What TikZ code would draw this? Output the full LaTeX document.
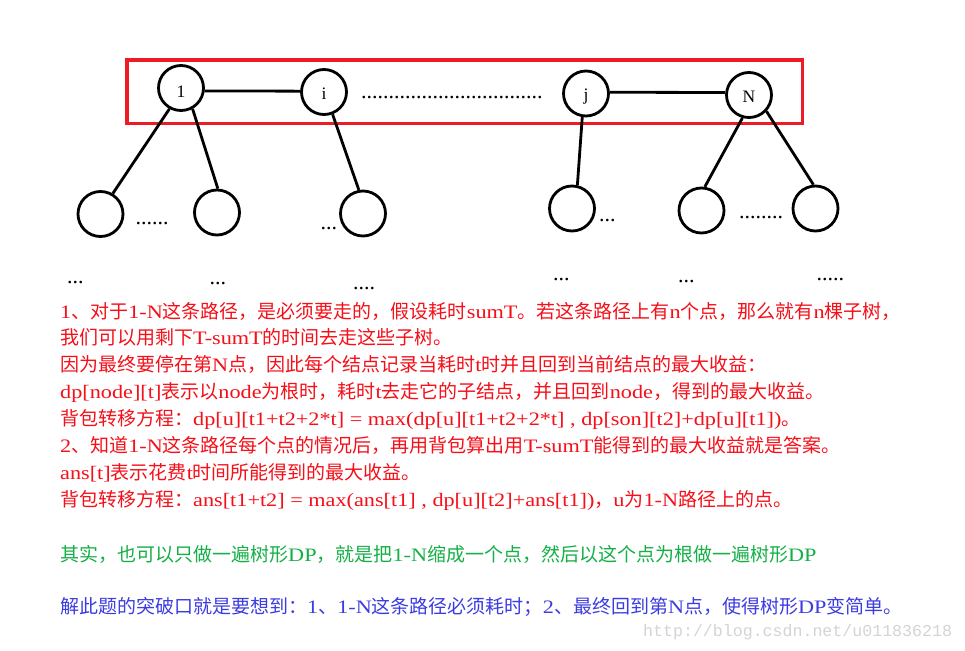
\documentclass[tikz,border=0pt]{standalone}
\usepackage{fontspec}
\setmainfont{Liberation Serif}[FakeStretch=1.17]
\newfontfamily\cjkfont{Noto Sans CJK SC}
\newfontfamily\lblfont{Liberation Serif}
\newfontfamily\wmfont{Liberation Mono}
\newXeTeXintercharclass\CJKcls
\newcount\cjkc
\cjkc="3000
\loop \XeTeXcharclass\cjkc=\CJKcls \advance\cjkc by 1 \ifnum\cjkc<"3040 \repeat
\cjkc="4E00
\loop \XeTeXcharclass\cjkc=\CJKcls \advance\cjkc by 1 \ifnum\cjkc<"A000 \repeat
\cjkc="FF00
\loop \XeTeXcharclass\cjkc=\CJKcls \advance\cjkc by 1 \ifnum\cjkc<"FF60 \repeat
\XeTeXinterchartoks 0 \CJKcls = {\begingroup\cjkfont}
\XeTeXinterchartoks 4095 \CJKcls = {\begingroup\cjkfont}
\XeTeXinterchartoks \CJKcls 0 = {\endgroup}
\XeTeXinterchartoks \CJKcls 4095 = {\endgroup}
\definecolor{boxred}{RGB}{237,28,36}
\definecolor{txtred}{RGB}{245,15,25}
\definecolor{txtgreen}{RGB}{20,176,70}
\definecolor{txtblue}{RGB}{60,60,225}
\definecolor{wmgray}{RGB}{212,212,212}
\tikzset{
  circ/.style={circle, draw=black, line width=2.8pt, minimum size=45pt, inner sep=0pt},
  lbl/.style={font=\lblfont\fontsize{17.5}{20}\selectfont, inner sep=0pt},
  edge/.style={draw=black, line width=2.8pt},
  dots/.style={anchor=base west, inner sep=0pt, font=\lblfont\fontsize{22}{24}\selectfont},
  redbox/.style={draw=boxred, line width=3.2pt},
  txt/.style={anchor=base west, inner sep=0pt, font=\fontsize{19}{23}\selectfont},
  redline/.style={txt, text=txtred},
  greenline/.style={txt, text=txtgreen},
  blueline/.style={txt, text=txtblue},
  wm/.style={anchor=base west, inner sep=0pt, text=wmgray, font=\wmfont\fontsize{16.6}{18}\selectfont}
}
\begin{document}
\XeTeXinterchartokenstate=1
\begin{tikzpicture}[x=1pt, y=-1pt]
\fill[white] (0,0) rectangle (965,650);
\useasboundingbox (0,0) rectangle (965,650);

% red frame round the path 1..N
\draw[redbox] (127,60) rectangle (802.7,123.7);

% path nodes
\node[circ, label={[lbl, yshift=-4pt]center:1}] (n1) at (181,88) {};
\node[circ, label={[lbl, yshift=-2pt]center:i}] (ni) at (324,92) {};
\node[circ, label={[lbl, yshift=-3pt]center:j}] (nj) at (586,93.5) {};
\node[circ, label={[lbl, yshift=-2pt]center:N}] (nN) at (749,95) {};

% children
\node[circ] (c1) at (100.5,214) {};
\node[circ] (c2) at (217,212.5) {};
\node[circ] (c3) at (363,213.5) {};
\node[circ] (c4) at (572,208.5) {};
\node[circ] (c5) at (701.5,210.5) {};
\node[circ] (c6) at (815.5,208.5) {};

% connectors
\draw[edge] (n1.-7) -- (ni.178);
\draw[edge] (nj.3) -- (nN.174);
\draw[edge] (n1.241) -- (c1.59);
\draw[edge] (n1.299) -- (c2.88);
\draw[edge] (ni.291) -- (c3.100);
\draw[edge] (nj.261) -- (c4.77);
\draw[edge] (nN.254) -- (c5.82);
\draw[edge] (nN.317) -- (c6.95);

% dots
\node[dots] (d0) at (361,99) {.................................};
\node[dots] (d1) at (135.5,224.5) {......};
\node[dots] (d2) at (320.5,229.5) {...};
\node[dots] (d3) at (599,221.5) {...};
\node[dots] (d4) at (739,218.5) {........};
\node[dots] (b1) at (67,283) {...};
\node[dots] (b2) at (209.5,284.5) {...};
\node[dots] (b3) at (353,289) {....};
\node[dots] (b4) at (553,280.5) {...};
\node[dots] (b5) at (678,282.5) {...};
\node[dots] (b6) at (816.5,280.5) {.....};

% red explanation
\node[redline] (r1) at (60,318) {1、对于1-N这条路径，是必须要走的，假设耗时sumT。若这条路径上有n个点，那么就有n棵子树，};
\node[redline] (r2) at (60,344.9) {我们可以用剩下T-sumT的时间去走这些子树。};
\node[redline] (r3) at (60,371.8) {因为最终要停在第N点，因此每个结点记录当耗时t时并且回到当前结点的最大收益：};
\node[redline] (r4) at (60,398.7) {dp[node][t]表示以node为根时，耗时t去走它的子结点，并且回到node，得到的最大收益。};
\node[redline] (r5) at (60,425.6) {背包转移方程：dp[u][t1+t2+2*t] = max(dp[u][t1+t2+2*t] , dp[son][t2]+dp[u][t1])。};
\node[redline] (r6) at (60,452.5) {2、知道1-N这条路径每个点的情况后，再用背包算出用T-sumT能得到的最大收益就是答案。};
\node[redline] (r7) at (60,479.4) {ans[t]表示花费t时间所能得到的最大收益。};
\node[redline] (r8) at (60,506.3) {背包转移方程：ans[t1+t2] = max(ans[t1] , dp[u][t2]+ans[t1])，u为1-N路径上的点。};

\node[greenline] (g1) at (60,561.5) {其实，也可以只做一遍树形DP，就是把1-N缩成一个点，然后以这个点为根做一遍树形DP};
\node[blueline] (l1) at (60,613.5) {解此题的突破口就是要想到：1、1-N这条路径必须耗时；2、最终回到第N点，使得树形DP变简单。};

\node[wm] (w1) at (643,636) {http://blog.csdn.net/u011836218};
\end{tikzpicture}
\end{document}
